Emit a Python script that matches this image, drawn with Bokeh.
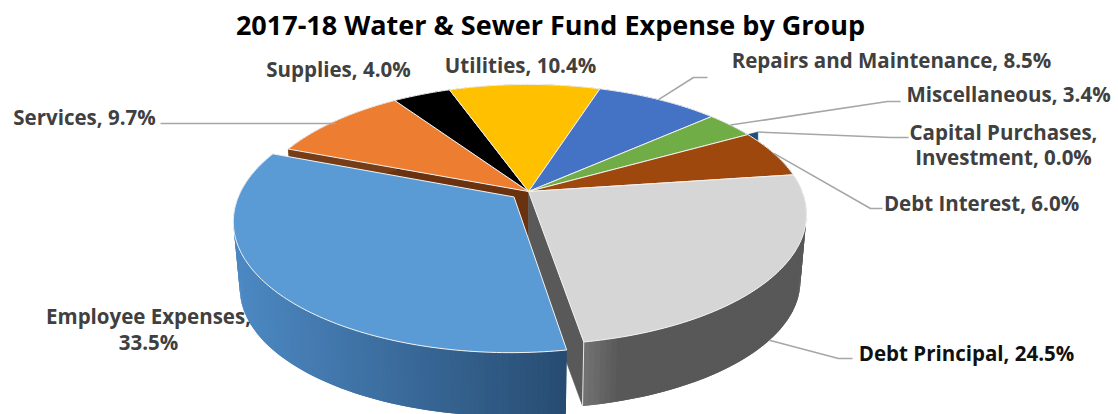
import math
from bokeh.embed import file_html
from bokeh.models import Range1d
from bokeh.plotting import figure
from bokeh.resources import INLINE
from bokeh.core.properties import value

# Expense groups, clockwise from the first slice
groups = ["Employee Expenses", "Services", "Supplies", "Utilities",
          "Repairs and Maintenance", "Miscellaneous",
          "Capital Purchases, Investment", "Debt Interest", "Debt Principal"]
shares = [33.5, 9.7, 4.0, 10.4, 8.5, 3.4, 0.0, 6.0, 24.5]
top_colors = ["#5b9bd5", "#ed7d31", "#000000", "#ffc000", "#4472c4",
              "#70ad47", "#1f4e79", "#9e480e", "#d6d6d6"]

TITLE = "2017-18 Water & Sewer Fund Expense by Group"

# Pie projection parameters (pixels)
W, H = 1118, 414
CX, CY = 528.0, 191.0
AX, BY, PERSP = 273.6, 126.0, 0.1768
SHRINK, VANISH_Y = 0.978, 3250.0
FIRST_ANGLE = 170.4
EXPLODE = {0: 0.068, 6: 0.05}


def project(u, v):
    d = 1 - PERSP * v
    return CX + AX * u / d, CY + BY * v / d


def lower(pt, frac=1.0):
    x, y = pt
    s = 1 - (1 - SHRINK) * frac
    return CX + s * (x - CX), VANISH_Y + s * (y - VANISH_Y)


def slice_dir(a):
    r = math.radians(a)
    return math.sin(r), -math.cos(r)


def rim(a, off=(0.0, 0.0), r=1.0):
    u, v = slice_dir(a)
    return project(r * u + off[0], r * v + off[1])


def mix(c1, c2, t):
    t = max(0.0, min(1.0, t))
    a = [int(c1[i:i + 2], 16) for i in (1, 3, 5)]
    b = [int(c2[i:i + 2], 16) for i in (1, 3, 5)]
    return "#%02x%02x%02x" % tuple(round(p + (q - p) * t) for p, q in zip(a, b))


def wall_color(i, x):
    if i == 0:
        t = (x - 236) / (570 - 236)
        return mix("#4c88c2", "#264a6f", t)
    if i == 8:
        return mix("#767676", "#585858", (x - 585) / 40)
    return mix(top_colors[i], "#000000", 0.5)


total = sum(shares)
spans = []
start = FIRST_ANGLE
for s in shares:
    sweep = s / total * 360
    spans.append((start, start + sweep))
    start += sweep

p = figure(width=W, height=H, x_range=Range1d(0, W), y_range=Range1d(H, 0),
           output_backend="svg", toolbar_location=None, min_border=0,
           outline_line_color=None)
p.axis.visible = False
p.grid.visible = False
p.background_fill_color = "white"
p.border_fill_color = "white"


def offset_of(i):
    e = EXPLODE.get(i, 0.0)
    a0, a1 = spans[i]
    u, v = slice_dir((a0 + a1) / 2)
    return (e * u, e * v)


def draw_walls(i):
    # Each strip reaches under the next one so no seams show between them
    a0, a1 = spans[i]
    off = offset_of(i)
    n = max(2, int((a1 - a0) / 1.0))
    step = (a1 - a0) / n
    order = range(n) if i == 0 else range(n - 1, -1, -1)
    for k in order:
        b0 = a0 + step * k
        b1 = b0 + step
        if i == 0:
            b0 = max(a0, b0 - step)
        else:
            b1 = min(a1, b1 + step)
        t0, t1 = rim(b0, off), rim(b1, off)
        l0, l1 = lower(t0), lower(t1)
        color = wall_color(i, (rim(a0 + step * k, off)[0] + rim(a0 + step * (k + 1), off)[0]) / 2)
        p.patch([t0[0], t1[0], l1[0], l0[0]], [t0[1], t1[1], l1[1], l0[1]],
                fill_color=color, line_color=None)


def draw_top(i):
    a0, a1 = spans[i]
    off = offset_of(i)
    n = max(2, int((a1 - a0) / 1.0))
    pts = [project(*off)]
    pts += [rim(a0 + (a1 - a0) * k / n, off) for k in range(n + 1)]
    p.patch([q[0] for q in pts], [q[1] for q in pts], fill_color=top_colors[i],
            line_color="#f2f2f2", line_width=1.0, line_join="round")


# The faces exposed where the largest slice has been pulled away
hub = project(0, 0)
hub_low = lower(hub)
serv_end = rim(spans[0][1])
prin_end = rim(spans[0][0])
p.patch([hub[0], serv_end[0], lower(serv_end)[0], hub_low[0]],
        [hub[1], serv_end[1], lower(serv_end)[1], hub_low[1]],
        fill_color="#6b3210", line_color="#6b3210", line_width=0.5)
p.patch([hub[0], prin_end[0], lower(prin_end)[0], hub_low[0]],
        [hub[1], prin_end[1], lower(prin_end)[1], hub_low[1]],
        fill_color="#595959", line_color="#595959", line_width=0.5)

# Walls and tops, far side first
for i in range(1, 9):
    if shares[i] > 0:
        draw_walls(i)

# Pale seam between the cut face and the outer wall of the last slice
p.line([prin_end[0], lower(prin_end)[0]], [prin_end[1], lower(prin_end)[1]],
       line_color="#e8e8e8", line_width=1.0)

# The zero-width slice only shows as a sliver of wall behind its neighbours
cap_a = spans[6][0]
cap_off = offset_of(6)
cap_in = rim(cap_a)
cap_out = rim(cap_a, cap_off)
cap_low = lower(cap_out, 0.16)
cap_low = (cap_out[0], cap_low[1])
p.patch([cap_in[0], cap_out[0], cap_low[0]], [cap_in[1], cap_out[1], cap_low[1]],
        fill_color=top_colors[6], line_color=top_colors[6], line_width=0.5)

for i in range(1, 9):
    if shares[i] > 0:
        draw_top(i)

draw_walls(0)
draw_top(0)


# Leader lines start on the rim at each slice's middle angle
def mid(i):
    return sum(spans[i]) / 2


leaders = [
    (rim(mid(1)), [(160, 123)], 123),
    (rim(mid(4)), [(693, 77), (707, 77)], None),
    (rim(mid(5)), [(887, 101), (900, 101)], None),
    (cap_out, [(890, 137), (908, 137)], None),
    (rim(mid(7)), [(870, 208), (882, 208)], None),
    (lower(rim(mid(8))), [(838, 358), (852, 358)], None),
]
for begin, rest, level in leaders:
    first = (begin[0], level) if level is not None else begin
    pts = [first] + rest
    p.line([q[0] for q in pts], [q[1] for q in pts], line_color="#a6a6a6",
           line_width=1.5)

# Data labels
FONT = value("Open Sans")
label_color = "#404040"
label_lines = [
    ("Services, %.1f%%" % shares[1], 84, 116, label_color),
    ("Supplies, %.1f%%" % shares[2], 338, 68, label_color),
    ("Utilities, %.1f%%" % shares[3], 520, 64, label_color),
    ("Repairs and Maintenance, %.1f%%" % shares[4], 891, 59, label_color),
    ("Miscellaneous, %.1f%%" % shares[5], 1008, 93, label_color),
    ("Capital Purchases,", 1003, 131, label_color),
    ("Investment, %.1f%%" % shares[6], 1003, 156, label_color),
    ("Debt Interest, %.1f%%" % shares[7], 981, 202, label_color),
    ("Debt Principal, %.1f%%" % shares[8], 966, 352, "#111111"),
    ("Employee Expenses,", 148, 315, label_color),
    ("%.1f%%" % shares[0], 148, 341, label_color),
]
for txt, x, y, col in label_lines:
    p.text([x], [y], text=[txt], text_font=FONT, text_font_size="20.5px",
           text_font_style="bold", text_color=col, text_align="center",
           text_baseline="middle")

p.text([550], [24], text=[TITLE], text_font=FONT, text_font_size="27px",
       text_font_style="bold", text_color="#000000", text_align="center",
       text_baseline="middle")

open("out.html", "w").write(file_html(p, INLINE))
